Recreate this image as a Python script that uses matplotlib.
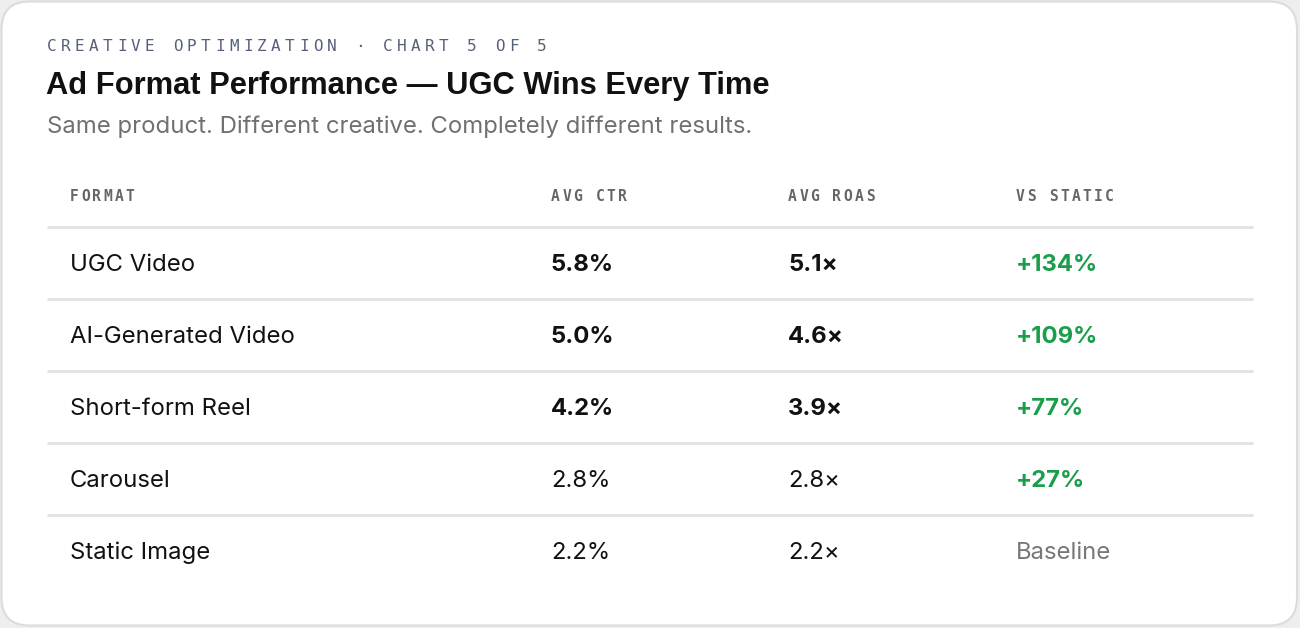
import matplotlib
matplotlib.use("Agg")
import matplotlib.pyplot as plt
from matplotlib.patches import FancyBboxPatch

# table data
formats = ["UGC Video", "AI-Generated Video", "Short-form Reel", "Carousel", "Static Image"]
avg_ctr = [5.8, 5.0, 4.2, 2.8, 2.2]
avg_roas = [5.1, 4.6, 3.9, 2.8, 2.2]
vs_static = [134, 109, 77, 27, None]
headers = ["FORMAT", "AVG CTR", "AVG ROAS", "VS STATIC"]

kicker = "CREATIVE OPTIMIZATION · CHART 5 OF 5"
title = "Ad Format Performance — UGC Wins Every Time"
subtitle = "Same product. Different creative. Completely different results."

W, H = 1300, 628
fig = plt.figure(figsize=(W / 100, H / 100), dpi=100)
fig.patch.set_facecolor("#eeeeee")
ax = fig.add_axes([0, 0, 1, 1])
ax.set_xlim(0, W)
ax.set_ylim(H, 0)
ax.axis("off")

# card
card = FancyBboxPatch((1.5, 1.5), W - 4.5, H - 4, boxstyle="round,pad=0,rounding_size=28",
                      facecolor="white", edgecolor="#dcdcdc", linewidth=1.5)
ax.add_patch(card)


def spaced(x, y, s, pitch, **kw):
    # monospace text with letter spacing, one glyph at a time
    for i, ch in enumerate(s):
        ax.text(x + i * pitch, y, ch, ha="left", va="center", **kw)


spaced(47, 46.5, kicker, 14.0, fontsize=11.5, family="DejaVu Sans Mono", color="#56607a")
ax.text(46, 86, title, ha="left", va="center", fontsize=22.2, fontweight="bold",
        family="Liberation Sans", color="#111111")
ax.text(47, 127, subtitle, ha="left", va="center", fontsize=17.2,
        family="Inter", color="#707070")

col_x = [70, 551, 788, 1016]
head_y = 196.5
for x, h in zip(col_x, headers):
    spaced(x, head_y, h, 11.1, fontsize=10.5, family="DejaVu Sans Mono",
           fontweight="bold", color="#666666")

left, right = 47, 1253
ax.plot([left, right], [227, 227], color="#e2e2e2", lw=2, solid_capstyle="butt")

row_h = 72
y0 = 265
body = "Inter"
fs = 17.2
for i, name in enumerate(formats):
    y = y0 + i * row_h
    strong = i < 3
    wt = "bold" if strong else "normal"
    ax.text(col_x[0], y, name, ha="left", va="center", fontsize=fs, family=body, color="#111111")
    ax.text(col_x[1], y, f"{avg_ctr[i]:.1f}%", ha="left", va="center", fontsize=fs,
            family=body, fontweight=wt, color="#111111")
    ax.text(col_x[2], y, f"{avg_roas[i]:.1f}×", ha="left", va="center", fontsize=fs,
            family=body, fontweight=wt, color="#111111")
    if vs_static[i] is None:
        ax.text(col_x[3], y, "Baseline", ha="left", va="center", fontsize=fs,
                family=body, color="#777777")
    else:
        ax.text(col_x[3], y, f"+{vs_static[i]}%", ha="left", va="center", fontsize=fs,
                family=body, fontweight="bold", color="#1a9e4b")
    if i < len(formats) - 1:
        ax.plot([left, right], [y + 34, y + 34], color="#e2e2e2", lw=2, solid_capstyle="butt")

fig.savefig("out.png", dpi=100, facecolor=fig.get_facecolor())
